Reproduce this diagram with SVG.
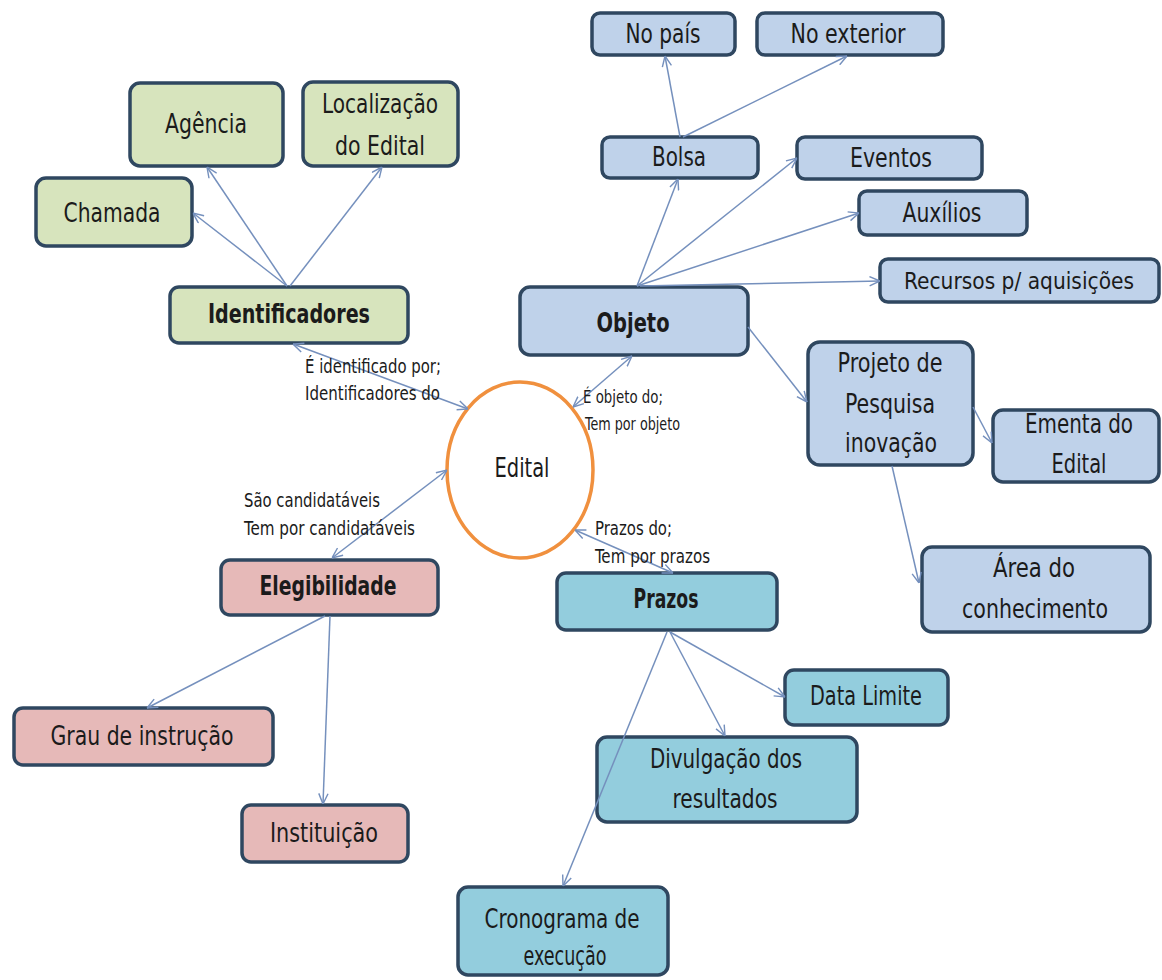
<svg xmlns="http://www.w3.org/2000/svg" width="1162" height="980" viewBox="0 0 1162 980">
<style>
  text { font-family: "Liberation Sans Narrow", "Arial Narrow", "DejaVu Sans Condensed", sans-serif; fill: #1b1b1b; }
  .lbl { font-size: 26px; text-anchor: middle; }
  .bold { font-size: 27px; font-weight: bold; text-anchor: middle; }
  .edge { font-size: 19px; }
  .edge2 { font-size: 17px; }
  .green, .blue, .pink, .teal { stroke: #2f4760; stroke-width: 3.5; }
  .green { fill: #d7e4bd; }
  .blue { fill: #bfd2ea; }
  .pink { fill: #e6b9b8; }
  .teal { fill: #93cddd; }
  .conn line { stroke: #7590bd; stroke-width: 1.5; fill: none; }
</style>
<defs>
  <marker id="arr" viewBox="0 0 10 10" refX="10" refY="5" markerWidth="11" markerHeight="11" markerUnits="userSpaceOnUse" orient="auto-start-reverse">
    <path d="M0.5,0.8 L10,5 L0.5,9.2" fill="none" stroke="#7590bd" stroke-width="1.3"/>
  </marker>
</defs>

<g id="n-agencia"><rect class="green" x="130" y="83" width="153" height="83" rx="10"/><text class="lbl" x="206" y="133" textLength="82" lengthAdjust="spacingAndGlyphs">Agência</text></g>
<g id="n-localizacao"><rect class="green" x="303" y="82" width="155" height="84" rx="10"/><text class="lbl" x="380" y="113" textLength="116" lengthAdjust="spacingAndGlyphs">Localização</text><text class="lbl" x="380" y="155" textLength="90" lengthAdjust="spacingAndGlyphs">do Edital</text></g>
<g id="n-chamada"><rect class="green" x="36" y="178" width="156" height="68" rx="10"/><text class="lbl" x="112" y="222" textLength="97" lengthAdjust="spacingAndGlyphs">Chamada</text></g>
<g id="n-identificadores"><rect class="green" x="170" y="287" width="238" height="56" rx="9"/><text class="bold" x="289" y="323" textLength="162" lengthAdjust="spacingAndGlyphs">Identificadores</text></g>

<g id="n-nopais"><rect class="blue" x="592" y="13" width="143" height="42" rx="8"/><text class="lbl" x="663" y="43" textLength="75" lengthAdjust="spacingAndGlyphs">No país</text></g>
<g id="n-noexterior"><rect class="blue" x="757" y="13" width="186" height="42" rx="8"/><text class="lbl" x="848" y="43" textLength="115" lengthAdjust="spacingAndGlyphs">No exterior</text></g>
<g id="n-bolsa"><rect class="blue" x="602" y="137" width="156" height="41" rx="8"/><text class="lbl" x="679" y="166" textLength="54" lengthAdjust="spacingAndGlyphs">Bolsa</text></g>
<g id="n-eventos"><rect class="blue" x="797" y="137" width="185" height="42" rx="8"/><text class="lbl" x="891" y="167" textLength="82" lengthAdjust="spacingAndGlyphs">Eventos</text></g>
<g id="n-auxilios"><rect class="blue" x="859" y="191" width="168" height="44" rx="8"/><text class="lbl" x="942" y="222" textLength="79" lengthAdjust="spacingAndGlyphs">Auxílios</text></g>
<g id="n-recursos"><rect class="blue" x="880" y="259" width="279" height="43" rx="8"/><text class="lbl" x="1019" y="289" style="font-size:23px" textLength="230" lengthAdjust="spacingAndGlyphs">Recursos p/ aquisições</text></g>
<g id="n-objeto"><rect class="blue" x="520" y="287" width="228" height="68" rx="10"/><text class="bold" x="633" y="332" textLength="73" lengthAdjust="spacingAndGlyphs">Objeto</text></g>
<g id="n-projeto"><rect class="blue" x="808" y="342" width="165" height="123" rx="12"/><text class="lbl" x="890" y="372" textLength="105" lengthAdjust="spacingAndGlyphs">Projeto de</text><text class="lbl" x="890" y="413" textLength="90" lengthAdjust="spacingAndGlyphs">Pesquisa</text><text class="lbl" x="891" y="452" textLength="92" lengthAdjust="spacingAndGlyphs">inovação</text></g>
<g id="n-ementa"><rect class="blue" x="993" y="410" width="166" height="72" rx="10"/><text class="lbl" x="1079" y="433" textLength="108" lengthAdjust="spacingAndGlyphs">Ementa do</text><text class="lbl" x="1079" y="473" textLength="55" lengthAdjust="spacingAndGlyphs">Edital</text></g>
<g id="n-area"><rect class="blue" x="922" y="547" width="228" height="85" rx="10"/><text class="lbl" x="1034" y="577" textLength="82" lengthAdjust="spacingAndGlyphs">Área do</text><text class="lbl" x="1035" y="618" textLength="146" lengthAdjust="spacingAndGlyphs">conhecimento</text></g>

<g id="n-edital"><ellipse cx="520" cy="470" rx="73" ry="88" fill="#ffffff" stroke="#f0903e" stroke-width="3.5"/><text class="lbl" x="522" y="477" textLength="55" lengthAdjust="spacingAndGlyphs">Edital</text></g>

<g id="n-elegibilidade"><rect class="pink" x="221" y="560" width="217" height="55" rx="9"/><text class="bold" x="328" y="595" textLength="137" lengthAdjust="spacingAndGlyphs">Elegibilidade</text></g>
<g id="n-grau"><rect class="pink" x="14" y="708" width="259" height="57" rx="9"/><text class="lbl" x="142" y="745" textLength="183" lengthAdjust="spacingAndGlyphs">Grau de instrução</text></g>
<g id="n-instituicao"><rect class="pink" x="242" y="805" width="166" height="57" rx="9"/><text class="lbl" x="324" y="842" textLength="108" lengthAdjust="spacingAndGlyphs">Instituição</text></g>

<g id="n-prazos"><rect class="teal" x="557" y="573" width="220" height="57" rx="9"/><text class="bold" x="666" y="608" textLength="65" lengthAdjust="spacingAndGlyphs">Prazos</text></g>
<g id="n-datalimite"><rect class="teal" x="785" y="670" width="163" height="55" rx="9"/><text class="lbl" x="866" y="705" textLength="112" lengthAdjust="spacingAndGlyphs">Data Limite</text></g>
<g id="n-divulgacao"><rect class="teal" x="597" y="737" width="260" height="85" rx="10"/><text class="lbl" x="726" y="768" textLength="152" lengthAdjust="spacingAndGlyphs">Divulgação dos</text><text class="lbl" x="725" y="808" textLength="105" lengthAdjust="spacingAndGlyphs">resultados</text></g>
<g id="n-cronograma"><rect class="teal" x="458" y="887" width="210" height="88" rx="10"/><text class="lbl" x="562" y="928" textLength="155" lengthAdjust="spacingAndGlyphs">Cronograma de</text><text class="lbl" x="565" y="965" textLength="83" lengthAdjust="spacingAndGlyphs">execução</text></g>

<g id="connectors" class="conn">
  <line x1="287" y1="286" x2="193" y2="213" marker-end="url(#arr)"/>
  <line x1="287" y1="286" x2="207" y2="167" marker-end="url(#arr)"/>
  <line x1="290" y1="286" x2="382" y2="167" marker-end="url(#arr)"/>
  <line x1="293" y1="344" x2="468" y2="409" marker-start="url(#arr)" marker-end="url(#arr)"/>
  <line x1="637" y1="286" x2="678" y2="179" marker-end="url(#arr)"/>
  <line x1="637" y1="286" x2="797" y2="158" marker-end="url(#arr)"/>
  <line x1="637" y1="286" x2="859" y2="213" marker-end="url(#arr)"/>
  <line x1="640" y1="286" x2="880" y2="281" marker-end="url(#arr)"/>
  <line x1="680" y1="137" x2="665" y2="56" marker-end="url(#arr)"/>
  <line x1="683" y1="137" x2="847" y2="56" marker-end="url(#arr)"/>
  <line x1="748" y1="327" x2="807" y2="402" marker-end="url(#arr)"/>
  <line x1="973" y1="407" x2="992" y2="443" marker-end="url(#arr)"/>
  <line x1="892" y1="466" x2="919" y2="583" marker-end="url(#arr)"/>
  <line x1="632" y1="356" x2="573" y2="407" marker-start="url(#arr)" marker-end="url(#arr)"/>
  <line x1="575" y1="530" x2="673" y2="573" marker-start="url(#arr)" marker-end="url(#arr)"/>
  <line x1="447" y1="470" x2="332" y2="558" marker-start="url(#arr)" marker-end="url(#arr)"/>
  <line x1="325" y1="616" x2="147" y2="708" marker-end="url(#arr)"/>
  <line x1="330" y1="616" x2="323" y2="804" marker-end="url(#arr)"/>
  <line x1="670" y1="632" x2="785" y2="697" marker-end="url(#arr)"/>
  <line x1="670" y1="632" x2="725" y2="736" marker-end="url(#arr)"/>
  <line x1="667" y1="632" x2="563" y2="886" marker-end="url(#arr)"/>
</g>

<g id="edge-labels">
  <text class="edge" x="305" y="373" textLength="136" lengthAdjust="spacingAndGlyphs">É identificado por;</text>
  <text class="edge" x="305" y="400" textLength="135" lengthAdjust="spacingAndGlyphs">Identificadores do</text>
  <text class="edge2" x="583" y="403" textLength="80" lengthAdjust="spacingAndGlyphs">É objeto do;</text>
  <text class="edge2" x="585" y="430" textLength="95" lengthAdjust="spacingAndGlyphs">Tem por objeto</text>
  <text class="edge" x="244" y="507" textLength="136" lengthAdjust="spacingAndGlyphs">São candidatáveis</text>
  <text class="edge" x="244" y="535" textLength="171" lengthAdjust="spacingAndGlyphs">Tem por candidatáveis</text>
  <text class="edge" x="595" y="535" textLength="77" lengthAdjust="spacingAndGlyphs">Prazos do;</text>
  <text class="edge" x="595" y="563" textLength="115" lengthAdjust="spacingAndGlyphs">Tem por prazos</text>
</g>
</svg>
